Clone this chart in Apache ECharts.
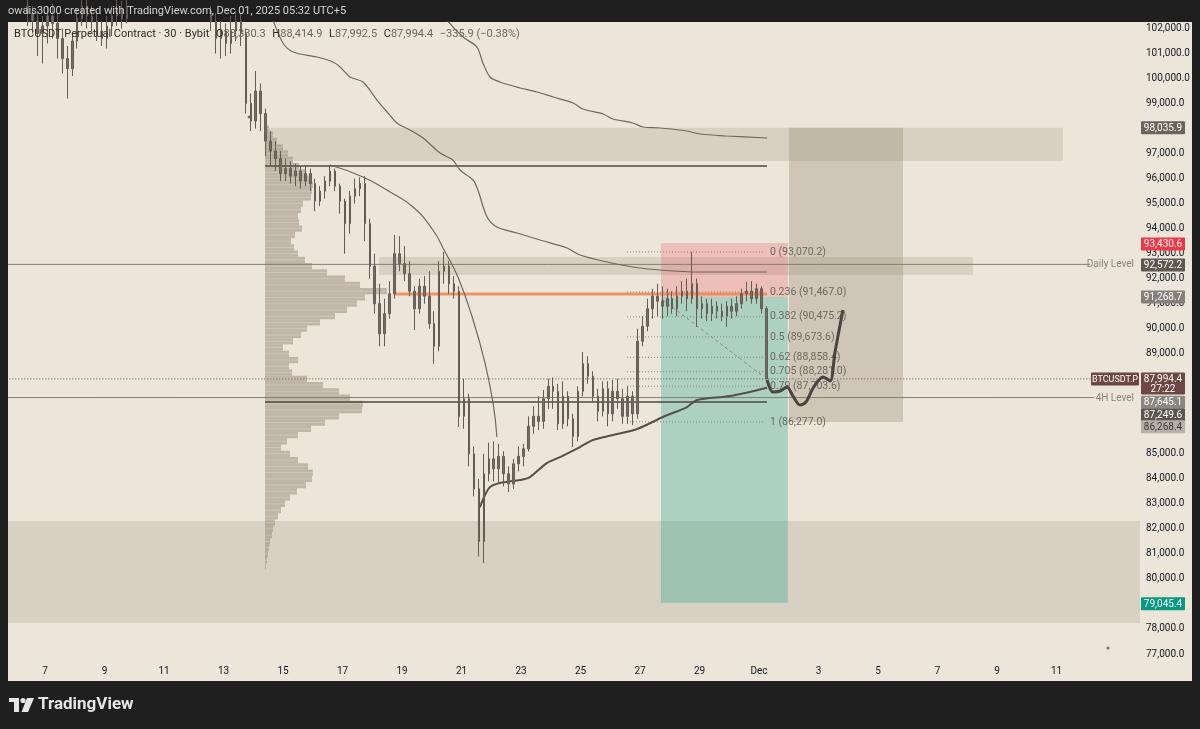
<!DOCTYPE html>
<html><head><meta charset="utf-8">
<script src="https://cdn.jsdelivr.net/npm/echarts@6/dist/echarts.min.js"></script>
<style>html,body{margin:0;padding:0;background:#1f1f1f;}#c{width:1200px;height:729px;}</style>
</head><body><div id="c"></div>
<script>
// ---------- axis definitions (x = day of November 2025, y = USDT) ----------
const X_MIN = 5.7563, X_MAX = 43.8067;
const Y_MIN = 76760.2, Y_MAX = 102259.8;
const X_TICKS = [7,9,11,13,15,17,19,21,23,25,27,29,31,33,35,37,39,41];
const X_TICK_LABELS = ['7','9','11','13','15','17','19','21','23','25','27','29','Dec','3','5','7','9','11'];
const Y_TICKS = [77000,78000,79000,80000,81000,82000,83000,84000,85000,86000,87000,88000,89000,90000,91000,92000,93000,94000,95000,96000,97000,98000,99000,100000,101000,102000];

// ---------- BTCUSDT.P candles (4h resolution) [open, close, low, high] ----------
const CANDLE_START = 5.75;       // Nov 5, 18:00
const CANDLE_STEP = 1/6;         // 4 hours
const CANDLES = [
[103200,103500,102900,103900],[103500,103000,102700,103800],[103000,103300,102500,103600],[103300,102900,102400,103500],
[102900,102600,102100,103200],[102600,102300,101800,102900],[102300,101800,100900,102700],[101800,102100,100600,102500],
[102100,102500,101400,102900],[102500,102200,101600,103000],[102200,101600,100800,102600],[101600,100800,100200,102000],
[100800,100400,99200,101300],[100400,101500,100100,101800],[101500,102400,101200,102800],[102400,102900,102100,103300],
[102900,102500,102000,103300],[102500,102300,101900,102900],[102300,101900,101500,102700],[101900,101600,101300,102300],
[101600,102100,101200,102500],[102100,102500,101700,102900],[102500,102800,102100,103200],[102800,102400,102000,103100],
[102400,102900,102200,103300],[102900,103400,102600,103800],[103400,103900,103100,104300],[103900,104300,103600,104700],
[104300,104000,103600,104800],[104000,104500,103700,104900],[104500,104200,103800,105000],[104200,103700,103300,104600],
[103700,103900,103200,104300],[103900,103400,102900,104200],[103400,103800,103000,104100],[103800,103300,102800,104100],
[103300,102900,102500,103600],[102900,103200,102600,103500],[103200,102800,102400,103500],[102800,103100,102500,103400],
[103100,102700,102300,103400],[102700,102300,101900,102900],[102300,101600,101000,102600],[101600,101900,100800,102300],
[101900,101400,100900,102200],[101400,101900,101000,102500],[101900,102300,101500,102700],[102300,101800,101300,102600],
[101800,99000,98600,102000],[99000,98300,97900,99400],[98300,99500,98000,100300],[99500,98600,97900,99800],
[98600,97500,96900,98800],[97500,97100,96500,97900],[97100,96800,96300,97500],[96800,96200,95900,97100],
[96200,96400,95900,96800],[96400,96100,95800,96700],[96100,96300,95700,96600],[96300,95900,95600,96500],
[95900,96200,95700,96500],[96200,95800,95500,96400],[95800,95100,94700,96000],[95100,95500,94900,95700],
[95500,95900,95200,96100],[95900,96300,95700,96550],[96300,95700,95500,96400],[95700,95100,94600,95800],
[95100,94200,93000,95200],[94200,95300,93800,95500],[95300,95600,95000,96000],[95600,95800,95300,96050],
[95800,94200,93500,96100],[94200,92500,92000,94400],[92500,91000,90600,93000],[91000,89800,89300,91800],
[89800,90600,89300,91200],[90600,91400,90400,91900],[91400,93000,91200,93750],[93000,92600,92300,93700],
[92600,92200,91900,93300],[92200,91500,91300,92700],[91500,90800,89950,91700],[90800,91700,90600,92000],
[91700,91300,91000,92100],[91300,90200,90000,92300],[90200,89300,88600,90700],[89300,92300,89100,92700],
[92300,92500,91800,93070],[92500,91800,91400,92700],[91800,91500,91200,92100],[91500,86500,86070,91700],
[86500,87200,86000,88000],[87200,85000,84500,87400],[85000,83600,83300,85300],[83600,81500,80900,84000],
[81500,84200,80630,85000],[84200,84800,83900,85450],[84800,84400,83900,85500],[84400,84900,83800,85400],
[84900,84200,83700,85100],[84200,83800,83470,84500],[83800,84600,83600,84800],[84600,84900,84300,85300],
[84900,85200,84500,85400],[85200,86100,85100,86500],[86100,86500,85800,86900],[86500,86300,85950,87300],
[86300,87200,86000,87550],[87200,87700,86800,88000],[87700,87500,86800,88050],[87500,86200,85950,87800],
[86200,87300,86000,87900],[87300,86400,86100,87500],[86400,85700,85270,86600],[85700,87500,85500,87700],
[87500,88600,87300,89070],[88600,88100,87800,88900],[88100,87300,87100,88300],[87300,86700,86300,87600],
[86700,87600,86500,87900],[87600,86600,86100,87900],[86600,87500,86300,87950],[87500,87200,86800,88000],
[87200,86500,86200,87600],[86500,87300,86200,87700],[87300,86600,86150,87500],[86600,89500,86400,90000],
[89500,90100,89300,90500],[90100,90800,89900,91200],[90800,91300,90400,91600],[91300,91100,90500,91800],
[91100,90900,90400,91700],[90900,91200,90500,91600],[91200,90800,90600,91500],[90800,91300,90500,91700],
[91300,91500,91000,91900],[91500,91200,90700,92000],[91200,91800,91000,93070],[91800,90800,90070,92000],
[90800,91000,90400,91300],[91000,90600,90300,91200],[90600,90900,90300,91200],[90900,90700,90400,91100],
[90700,90500,90300,91000],[90500,90900,90070,91100],[90900,90700,90400,91200],[90700,91000,90500,91300],
[91000,91400,90800,91600],[91400,91500,91100,91870],[91500,91200,91000,91900],[91200,91600,91000,91800],
[91600,90800,90600,91700],[90800,87994.4,87992.5,90900]
];

// ---------- fixed range volume profile [price level, volume] ----------
const PROFILE_STEP = 250;
const PROFILE = [
[98000,4],[97750,8],[97500,12],[97250,18],[97000,23],[96750,28],[96500,34],[96250,40],[96000,46],[95750,48],
[95500,47],[95250,46],[95000,38],[94750,36],[94500,33],[94250,34],[94000,37],[93750,30],[93500,26],[93250,29],
[93000,33],[92750,40],[92500,47],[92250,62],[92000,80],[91750,95],[91500,122],[91250,100],[91000,92],[90750,82],
[90500,70],[90250,55],[90000,42],[89750,36],[89500,28],[89250,18],[89000,24],[88750,33],[88500,24],[88250,27],
[88000,42],[87750,58],[87500,74],[87250,85],[87000,98],[86750,97],[86500,74],[86250,60],[86000,46],[85750,33],
[85500,22],[85250,16],[85000,25],[84750,33],[84500,43],[84250,48],[84000,47],[83750,41],[83500,32],[83250,25],
[83000,20],[82750,16],[82500,13],[82250,10],[82000,8],[81750,7],[81500,5],[81250,4],[81000,3],[80750,2],[80500,1]
];

// ---------- rectangles [dayFrom, dayTo, priceLow, priceHigh] ----------
const ZONES = [
[5.70, 43.90, 78238, 82315],          // lower demand zone
[14.395, 41.218, 96700, 98035.9],     // upper supply zone
[18.227, 38.193, 92148, 92867],       // daily level zone
[27.706, 31.97, 91268.7, 93430.6],    // short position: stop
[27.706, 31.97, 79045.4, 91268.7],    // short position: target
[32.008, 35.84, 86268.4, 98035.9]     // projection box
];
const ZONE_FILL = ['rgba(140,125,105,0.20)','rgba(140,125,105,0.20)','rgba(140,125,105,0.20)',
                   'rgba(242,54,69,0.22)','rgba(8,153,129,0.28)','rgba(140,125,105,0.30)'];

// ---------- horizontal segments [dayFrom, dayTo, price] ----------
const SEGMENTS = [
[14.395, 31.27, 96500],
[14.395, 31.27, 87070],
[5.70, 42.126, 92572.2],
[5.70, 42.26, 87249.6],
[5.70, 42.19, 87994.4],
[18.765, 31.27, 91390]
];
const SEG_STYLE = [
{stroke:'#4d4741', lineWidth:1.5},{stroke:'#4d4741', lineWidth:1.5},
{stroke:'#857e75', lineWidth:1},{stroke:'#857e75', lineWidth:1},
{stroke:'#6e4744', lineWidth:1, lineDash:[1,2]},{stroke:'#ee8a58', lineWidth:3, opacity:0.9}
];

// ---------- Fibonacci retracement ----------
const FIB_RANGE = [26.563, 31.20];
const FIB_RATIOS = ['0','0.236','0.382','0.5','0.62','0.705','0.79','1'];
const FIB_PRICES = [93070.2, 91467.0, 90475.2, 89673.6, 88858.4, 88281.0, 87703.6, 86277.0];
const FIB_TREND = [[27.77,91149],[31.13,88111]];

// ---------- curves (anchored VWAPs, arc, projection) [day, price] ----------
const CURVE_UPPER = [[20.28,102820],[20.51,102340],[21.05,101660],[21.52,101260],[21.72,100621],[21.96,100062],[22.29,99862],[22.97,99622],[23.54,99462],[24.08,99262],[24.75,99022],[25.08,98782],[25.76,98583],[26.09,98383],[26.76,98223],[27.10,98063],[27.67,98023],[28.58,97903],[29.02,97783],[29.92,97703],[31.27,97623]];
const CURVE_MID = [[14.56,102660],[14.66,102340],[15.00,101420],[15.34,101061],[16.14,100861],[16.68,100661],[16.92,100461],[17.25,100062],[17.69,99862],[18.16,99142],[18.50,98663],[18.83,98223],[19.27,97943],[19.71,97623],[20.28,97024],[20.71,96744],[20.95,96344],[21.39,95945],[21.55,95545],[21.86,94466],[22.19,94066],[22.87,93826],[23.64,93546],[24.55,93227],[24.98,92947],[25.89,92667],[26.76,92467],[27.67,92347],[29.02,92267],[31.27,92267]];
const CURVE_ARC = [[16.58,96544],[17.69,96064],[18.60,95465],[19.37,94865],[20.04,93946],[20.45,93066],[20.88,92067],[21.39,90348],[21.79,88630],[22.06,87031],[22.19,85672]];
const CURVE_LOW = [[21.62,82874],[21.79,83353],[21.96,83673],[22.29,83833],[22.97,83953],[23.30,84073],[23.87,84632],[24.31,84872],[24.98,85272],[25.42,85552],[26.09,85752],[26.90,85992],[27.77,86472],[28.58,86871],[28.92,87151],[30.03,87311],[31.27,87645.1]];
const PROJECTION = [[31.27,87952],[31.47,87472],[31.71,87512],[31.94,87672],[32.14,87312],[32.38,86953],[32.58,87073],[32.82,87632],[33.15,88072],[33.39,87912],[33.55,89031],[33.82,90750]];
const DOTS = [[13.86,98462],[42.73,77240]];

// ---------- right-axis price tags ----------
const TAG_PRICES = [98035.9, 93430.6, 92572.2, 91268.7, 87994.4, 87645.1, 87249.6, 86268.4, 79045.4];
const TAG_SUB = ['', '', '', '', '27:22', '', '', '', ''];
const TAG_STYLE = [
{bg:'#6b645c', fg:'#ffffff', dy:0},{bg:'#f23645', fg:'#ffffff', dy:1},{bg:'#5e5850', fg:'#ffffff', dy:0.5},
{bg:'#86807a', fg:'#ffffff', dy:0},{bg:'#6e4744', fg:'#ffffff', dy:0, h:22},{bg:'#8d8781', fg:'#ffffff', dy:14.6},
{bg:'#5c5650', fg:'#ffffff', dy:17.4},{bg:'#b6b0a8', fg:'#3a3632', dy:4.6},{bg:'#089981', fg:'#ffffff', dy:1}
];
const SIDE_PRICES = [92572.2, 87249.6, 87994.4];
const SIDE_TEXT = ['Daily Level', '4H Level', 'BTCUSDT.P'];
const SIDE_STYLE = [{fill:'#8a847c'},{fill:'#8a847c'},{fill:'#ffffff', bg:'#6e4744'}];

const FONT = 'Roboto, "Liberation Sans", Arial, sans-serif';
const fmt = v => Number(v).toLocaleString('en-US', {minimumFractionDigits:1, maximumFractionDigits:1});

const chart = echarts.init(document.getElementById('c'), null, {renderer:'canvas'});

const lineSeries = (data, color, width, z, smooth) => ({
  type:'line', data, symbol:'none', smooth: smooth, z, silent:true, clip:true,
  lineStyle:{color, width}
});

chart.setOption({
  animation:false,
  backgroundColor:'#1f1f1f',
  grid:{left:8, right:60, top:22, bottom:69, containLabel:false, outerBoundsMode:'none'},
  xAxis:[
    {type:'value', min:X_MIN, max:X_MAX, axisLine:{show:false}, axisTick:{show:false}, splitLine:{show:false},
     axisLabel:{customValues:X_TICKS, formatter:v => X_TICK_LABELS[X_TICKS.indexOf(v)], color:'#131722', fontSize:10, margin:6, fontFamily:FONT}},
    {type:'value', min:-257, max:875, show:false, splitLine:{show:false}}
  ],
  yAxis:{type:'value', position:'right', min:Y_MIN, max:Y_MAX, axisLine:{show:false}, axisTick:{show:false}, splitLine:{show:false},
    axisLabel:{customValues:Y_TICKS, formatter:v => fmt(v), color:'#131722', fontSize:10, margin:6, align:'left', fontFamily:FONT}},
  graphic:{elements:[
    {type:'rect', z:-100, shape:{x:8, y:22, width:1184, height:659}, style:{fill:'#ece6da'}},
    {type:'text', z:10, x:8, y:11, style:{text:'owais3000 created with TradingView.com, Dec 01, 2025 05:32 UTC+5', fill:'#d4d4d4', font:'11px '+FONT, verticalAlign:'middle'}},
    {type:'text', z:10, x:14, y:34, style:{
      text:'{a|BTCUSDT Perpetual Contract · 30 · Bybit}  {a|O}{b|88,330.3}  {a|H}{b|88,414.9}  {a|L}{b|87,992.5}  {a|C}{b|87,994.4}  {b|−335.9 (−0.38%)}',
      verticalAlign:'middle',
      rich:{a:{fill:'#2e2a26', font:'11px '+FONT}, b:{fill:'#6f665c', font:'11px '+FONT}}}},
    {type:'rect', z:10, shape:{x:9, y:698, width:10, height:4}, style:{fill:'#e6e6e6'}},
    {type:'rect', z:10, shape:{x:14, y:698, width:5, height:14}, style:{fill:'#e6e6e6'}},
    {type:'circle', z:10, shape:{cx:23, cy:700.5, r:2.6}, style:{fill:'#e6e6e6'}},
    {type:'polygon', z:10, shape:{points:[[27,698],[34,698],[28,712],[21.5,712]]}, style:{fill:'#e6e6e6'}},
    {type:'text', z:10, x:38, y:705, style:{text:'TradingView', fill:'#e6e6e6', font:'bold 17px '+FONT, verticalAlign:'middle'}}
  ]},
  series:[
    {type:'custom', name:'zones', z:1, clip:true, silent:true, data:ZONES, encode:{x:[0,1], y:[2,3]},
     renderItem:(params, api) => {
       const a = api.coord([api.value(0), api.value(3)]);
       const b = api.coord([api.value(1), api.value(2)]);
       return {type:'rect', shape:{x:a[0], y:a[1], width:b[0]-a[0], height:b[1]-a[1]}, style:{fill:ZONE_FILL[params.dataIndex]}};
     }},
    {type:'custom', name:'profile', z:2, xAxisIndex:1, yAxisIndex:0, silent:true, data:PROFILE, encode:{x:1, y:0},
     renderItem:(params, api) => {
       const p = api.value(0), v = api.value(1);
       const a = api.coord([0, p + PROFILE_STEP/2]);
       const b = api.coord([v, p - PROFILE_STEP/2]);
       const h = b[1] - a[1];
       return {type:'group', children:[
         {type:'rect', shape:{x:a[0], y:a[1], width:b[0]-a[0], height:h}, style:{fill:'rgba(150,138,120,0.52)'}},
         {type:'line', shape:{x1:a[0], y1:a[1]+h/2, x2:b[0], y2:a[1]+h/2}, style:{stroke:'rgba(236,230,218,0.35)', lineWidth:1}}
       ]};
     }},
    {type:'custom', name:'levels', z:3, clip:true, silent:true, data:SEGMENTS, encode:{x:[0,1], y:2},
     renderItem:(params, api) => {
       const a = api.coord([api.value(0), api.value(2)]);
       const b = api.coord([api.value(1), api.value(2)]);
       const s = SEG_STYLE[params.dataIndex];
       return {type:'line', shape:{x1:a[0], y1:a[1], x2:b[0], y2:b[1]},
         style:{stroke:s.stroke, lineWidth:s.lineWidth, lineDash:s.lineDash || null, opacity:s.opacity || 1}};
     }},
    {type:'custom', name:'fib', z:3, silent:true, data:FIB_PRICES.map(p => [FIB_RANGE[0], p]), encode:{x:0, y:1},
     renderItem:(params, api) => {
       const i = params.dataIndex;
       const a = api.coord([FIB_RANGE[0], api.value(1)]);
       const b = api.coord([FIB_RANGE[1], api.value(1)]);
       return {type:'group', children:[
         {type:'line', shape:{x1:a[0], y1:a[1], x2:b[0], y2:b[1]}, style:{stroke:'#8f887e', lineWidth:1, lineDash:[1,2]}},
         {type:'text', style:{text:FIB_RATIOS[i] + ' (' + fmt(FIB_PRICES[i]) + ')', x:b[0]+5, y:b[1], verticalAlign:'middle', align:'left', fill:'#6f685f', font:'10.5px '+FONT}}
       ]};
     }},
    Object.assign(lineSeries(FIB_TREND, '#8f887e', 1, 3, false), {lineStyle:{color:'#8f887e', width:1, type:[3,3]}}),
    lineSeries(CURVE_UPPER, '#6e675f', 1.2, 4, 0.3),
    lineSeries(CURVE_MID, '#6e675f', 1.2, 4, 0.3),
    lineSeries(CURVE_ARC, '#6e675f', 1.2, 4, 0.5),
    lineSeries(CURVE_LOW, '#57504a', 2, 4, 0.3),
    {type:'candlestick', name:'BTCUSDT.P', z:5, silent:true, barWidth:2,
     data:CANDLES.map((c, i) => [CANDLE_START + i*CANDLE_STEP, c[0], c[1], c[2], c[3]]),
     encode:{x:0, y:[1,2,3,4]},
     itemStyle:{color:'#766f66', color0:'#766f66', borderColor:'#635c54', borderColor0:'#635c54', borderWidth:1}},
    lineSeries(PROJECTION, '#4a443e', 3, 6, 0.3),
    {type:'scatter', z:6, silent:true, data:DOTS, symbolSize:3, itemStyle:{color:'#5a534b'}},
    {type:'custom', name:'sideLabels', z:9, silent:true, data:SIDE_PRICES.map(p => [X_MAX, p]), encode:{x:0, y:1},
     renderItem:(params, api) => {
       const i = params.dataIndex, s = SIDE_STYLE[i];
       const pt = api.coord([X_MAX, api.value(1)]);
       if (s.bg) {
         return {type:'group', children:[
           {type:'rect', shape:{x:pt[0]-49, y:pt[1]-6.5, width:48, height:13, r:1}, style:{fill:s.bg}},
           {type:'text', style:{text:SIDE_TEXT[i], x:pt[0]-25, y:pt[1]+0.5, align:'center', verticalAlign:'middle', fill:s.fill, font:'9px '+FONT}}
         ]};
       }
       return {type:'text', style:{text:SIDE_TEXT[i], x:pt[0]-6, y:pt[1]+0.5, align:'right', verticalAlign:'middle', fill:s.fill, font:'10px '+FONT}};
     }},
    {type:'custom', name:'priceTags', z:10, silent:true, data:TAG_PRICES.map(p => [X_MAX, p]), encode:{x:0, y:1},
     renderItem:(params, api) => {
       const i = params.dataIndex, s = TAG_STYLE[i];
       const pt = api.coord([X_MAX, api.value(1)]);
       const x0 = pt[0] + 1, yc = pt[1] + s.dy, h = s.h || 13;
       const children = [
         {type:'rect', shape:{x:x0, y:yc-6.5, width:44, height:h, r:1}, style:{fill:s.bg}},
         {type:'text', style:{text:fmt(TAG_PRICES[i]), x:x0+22, y:yc+0.5, align:'center', verticalAlign:'middle', fill:s.fg, font:'10px '+FONT}}
       ];
       if (TAG_SUB[i]) children.push({type:'text', style:{text:TAG_SUB[i], x:x0+22, y:yc+11, align:'center', verticalAlign:'middle', fill:s.fg, font:'10px '+FONT}});
       return {type:'group', children};
     }}
  ]
});
</script></body></html>
